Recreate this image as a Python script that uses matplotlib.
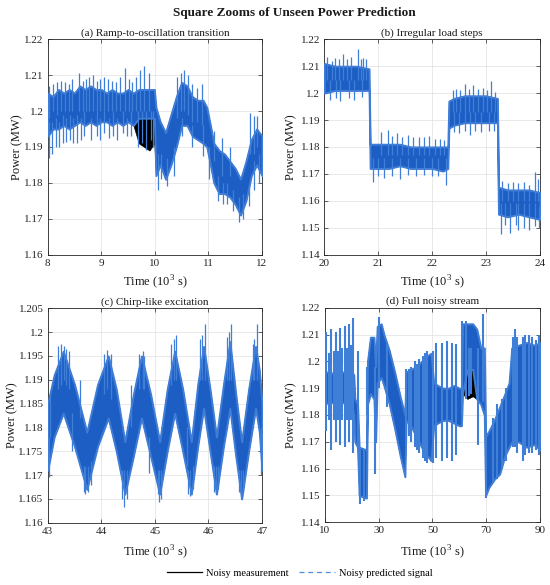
import matplotlib
matplotlib.use('Agg')
import matplotlib.pyplot as plt
from matplotlib.lines import Line2D

plt.rcParams['font.family'] = ['Liberation Serif', 'DejaVu Serif']
plt.rcParams['mathtext.fontset'] = 'custom'
plt.rcParams['mathtext.rm'] = 'Liberation Serif'

# ---------------- data ----------------
# (a) Ramp-to-oscillation transition : band of predicted signal
t_a = [8.0, 8.1, 8.2, 8.3, 8.4, 8.5, 8.6, 8.7, 8.8, 8.9, 9.0, 9.1, 9.2, 9.3, 9.4, 9.5, 9.6,
       9.7, 9.8, 9.9, 9.99, 10.02, 10.1, 10.2, 10.3, 10.4, 10.5, 10.6, 10.7, 10.8, 10.9, 10.97,
       11.05, 11.1, 11.2, 11.3, 11.4, 11.5, 11.6, 11.7, 11.8, 11.9, 12.0]
hi_a = [1.205, 1.204, 1.206, 1.205, 1.206, 1.205, 1.207, 1.206, 1.207, 1.206, 1.206, 1.205, 1.206,
        1.205, 1.205, 1.206, 1.205, 1.206, 1.206, 1.206, 1.206, 1.201, 1.197, 1.194, 1.199, 1.204,
        1.208, 1.207, 1.204, 1.203, 1.203, 1.201, 1.195, 1.191, 1.189, 1.188, 1.186, 1.184, 1.181,
        1.186, 1.192, 1.195, 1.193]
lo_a = [1.193, 1.195, 1.195, 1.196, 1.195, 1.196, 1.197, 1.196, 1.197, 1.196, 1.197, 1.197, 1.196,
        1.197, 1.196, 1.197, 1.196, 1.198, 1.198, 1.198, 1.198, 1.182, 1.185, 1.181, 1.185, 1.190,
        1.196, 1.196, 1.193, 1.192, 1.191, 1.190, 1.184, 1.180, 1.177, 1.177, 1.176, 1.174, 1.171,
        1.175, 1.182, 1.185, 1.182]
meas_hi_a = hi_a
meas_lo_a = [1.193, 1.195, 1.195, 1.196, 1.195, 1.196, 1.197, 1.196, 1.197, 1.196, 1.197, 1.197, 1.196,
             1.197, 1.196, 1.197, 1.196, 1.191, 1.190, 1.189, 1.191, 1.182, 1.185, 1.181, 1.185, 1.190,
             1.196, 1.196, 1.193, 1.192, 1.191, 1.190, 1.184, 1.180, 1.177, 1.177, 1.176, 1.174, 1.171,
             1.175, 1.182, 1.185, 1.182]
spk_a_t = [8.03, 8.1, 8.18, 8.25, 8.33, 8.4, 8.45, 8.58, 8.65, 8.72, 8.78, 8.85, 8.92, 8.98, 9.05,
           9.12, 9.2, 9.28, 9.35, 9.45, 9.52, 9.58, 9.65, 9.72, 9.8, 9.9, 10.42, 10.48, 10.55, 10.62,
           10.7, 10.78, 10.88, 11.1, 11.25, 11.4, 11.78, 11.85, 11.9,
           8.02, 8.08, 8.15, 8.22, 8.28, 8.35, 8.42, 8.48, 8.55, 8.62, 8.68, 8.8, 8.92, 8.98, 9.05,
           9.15, 9.22, 9.3, 9.4, 9.48, 9.55, 9.68, 9.76, 9.83, 9.92, 9.97, 10.05, 10.12, 10.22, 10.35,
           10.5, 10.7, 10.9, 11.02, 11.18, 11.28, 11.35, 11.45, 11.58, 11.65, 11.75, 11.85, 11.95]
spk_a_lo = [1.198, 1.200, 1.199, 1.200, 1.200, 1.200, 1.200, 1.200, 1.200, 1.200, 1.200, 1.200, 1.200,
            1.200, 1.200, 1.200, 1.200, 1.200, 1.200, 1.200, 1.200, 1.200, 1.200, 1.200, 1.200, 1.200,
            1.198, 1.200, 1.200, 1.199, 1.197, 1.197, 1.196, 1.186, 1.182, 1.182, 1.188, 1.188, 1.190,
            1.187, 1.188, 1.190, 1.190, 1.191, 1.1915, 1.192, 1.191, 1.191, 1.192, 1.193, 1.192, 1.193,
            1.192, 1.194, 1.1925, 1.193, 1.192, 1.194, 1.193, 1.193, 1.190, 1.191, 1.189, 1.192, 1.190,
            1.178, 1.181, 1.179, 1.182, 1.193, 1.190, 1.1875, 1.181, 1.175, 1.174, 1.174, 1.172, 1.169,
            1.170, 1.1735, 1.178, 1.180]
spk_a_hi = [1.207, 1.2075, 1.208, 1.2085, 1.208, 1.2075, 1.209, 1.2105, 1.2085, 1.209, 1.2095, 1.210,
            1.2085, 1.209, 1.2095, 1.209, 1.2085, 1.208, 1.2095, 1.212, 1.209, 1.208, 1.2095, 1.2115,
            1.2125, 1.2105, 1.2095, 1.2105, 1.2115, 1.210, 1.2075, 1.2065, 1.2075, 1.1945, 1.1925,
            1.190, 1.1995, 1.1985, 1.1985,
            1.197, 1.197, 1.198, 1.197, 1.199, 1.198, 1.199, 1.198, 1.199, 1.198, 1.200, 1.198, 1.200,
            1.198, 1.200, 1.198, 1.200, 1.198, 1.200, 1.198, 1.200, 1.200, 1.200, 1.200, 1.200, 1.200,
            1.188, 1.188, 1.187, 1.190, 1.198, 1.196, 1.196, 1.190, 1.182, 1.180, 1.180, 1.178, 1.176,
            1.177, 1.180, 1.186, 1.188]

# (b) Irregular load steps
t_b = [20.0, 20.2, 20.4, 20.6, 20.83, 20.85, 21.0, 21.2, 21.4, 21.6, 21.8, 22.0, 22.2, 22.29, 22.31,
       22.4, 22.6, 22.8, 23.0, 23.21, 23.23, 23.4, 23.6, 23.8, 24.0]
hi_b = [1.211, 1.210, 1.210, 1.210, 1.209, 1.181, 1.181, 1.181, 1.181, 1.180, 1.180, 1.180, 1.180,
        1.180, 1.197, 1.198, 1.199, 1.199, 1.199, 1.198, 1.165, 1.164, 1.164, 1.164, 1.163]
lo_b = [1.200, 1.201, 1.201, 1.201, 1.201, 1.172, 1.172, 1.172, 1.173, 1.172, 1.172, 1.172, 1.171,
        1.172, 1.187, 1.188, 1.189, 1.189, 1.189, 1.189, 1.155, 1.154, 1.155, 1.154, 1.153]
meas_hi_b = hi_b
meas_lo_b = lo_b
spk_b_t = [20.05, 20.15, 20.2, 20.28, 20.35, 20.42, 20.5, 20.62, 20.68, 20.72, 20.78, 21.05, 21.18,
           21.25, 21.35, 21.45, 21.55, 21.65, 21.75, 21.85, 21.95, 22.05, 22.15, 22.22, 22.38, 22.45,
           22.52, 22.6, 22.68, 22.75, 22.85, 22.95, 23.02, 23.1, 23.16, 23.3, 23.4, 23.5, 23.6, 23.7,
           23.8, 23.9, 23.97,
           20.1, 20.22, 20.3, 20.45, 20.55, 20.7, 20.9, 21.0, 21.1, 21.25, 21.4, 21.55, 21.7, 21.85,
           22.0, 22.1, 22.25, 22.4, 22.5, 22.6, 22.7, 22.8, 22.9, 23.05, 23.15, 23.28, 23.35, 23.45,
           23.55, 23.6, 23.7, 23.8, 23.9, 23.99]
spk_b_lo = [1.205, 1.205, 1.205, 1.205, 1.205, 1.205, 1.205, 1.205, 1.205, 1.205, 1.205, 1.177, 1.177,
            1.177, 1.177, 1.177, 1.177, 1.177, 1.177, 1.177, 1.177, 1.177, 1.177, 1.177, 1.193, 1.193,
            1.193, 1.193, 1.193, 1.193, 1.193, 1.193, 1.193, 1.193, 1.193, 1.160, 1.160, 1.160, 1.160,
            1.160, 1.160, 1.160, 1.160,
            1.1975, 1.198, 1.197, 1.198, 1.1975, 1.1985, 1.167, 1.169, 1.1685, 1.169, 1.168, 1.1695,
            1.169, 1.1695, 1.169, 1.169, 1.1657, 1.1855, 1.185, 1.186, 1.1845, 1.186, 1.1855, 1.186,
            1.186, 1.1477, 1.151, 1.148, 1.151, 1.149, 1.150, 1.149, 1.1505, 1.150]
spk_b_hi = [1.2135, 1.212, 1.213, 1.2125, 1.2145, 1.2125, 1.2135, 1.2165, 1.2125, 1.213, 1.2125,
            1.1855, 1.1862, 1.184, 1.185, 1.1835, 1.1845, 1.1835, 1.1835, 1.1835, 1.184, 1.183, 1.183,
            1.1825, 1.201, 1.2015, 1.201, 1.2035, 1.2015, 1.203, 1.2015, 1.202, 1.201, 1.2045, 1.2005,
            1.1675, 1.1665, 1.167, 1.1665, 1.167, 1.166, 1.1705, 1.168,
            1.205, 1.205, 1.205, 1.205, 1.205, 1.205, 1.176, 1.176, 1.176, 1.176, 1.176, 1.176, 1.176,
            1.176, 1.176, 1.176, 1.176, 1.193, 1.193, 1.193, 1.193, 1.193, 1.193, 1.193, 1.193, 1.159,
            1.159, 1.159, 1.159, 1.159, 1.159, 1.159, 1.159, 1.158]

# (c) Chirp-like excitation
t_c = [43.00, 43.12, 43.29, 43.50, 43.73, 43.93, 44.13, 44.28, 44.44, 44.60, 44.75, 44.92, 45.09,
       45.23, 45.37, 45.52, 45.68, 45.80, 45.91, 46.03, 46.15, 46.28, 46.40, 46.51, 46.62, 46.75,
       46.88, 46.95, 47.00]
hi_c = [1.185, 1.191, 1.196, 1.189, 1.179, 1.189, 1.195, 1.188, 1.177, 1.187, 1.195, 1.187, 1.177,
        1.188, 1.196, 1.188, 1.177, 1.189, 1.197, 1.188, 1.178, 1.189, 1.198, 1.187, 1.177, 1.188,
        1.197, 1.192, 1.185]
lo_c = [1.171, 1.178, 1.183, 1.176, 1.167, 1.176, 1.182, 1.175, 1.166, 1.174, 1.182, 1.174, 1.166,
        1.175, 1.183, 1.175, 1.166, 1.176, 1.184, 1.175, 1.166, 1.176, 1.184, 1.174, 1.165, 1.175,
        1.184, 1.179, 1.171]
meas_hi_c = hi_c
meas_lo_c = lo_c
spk_c_t = [43.05, 43.2, 43.25, 43.3, 43.35, 43.4, 43.6, 44.05, 44.1, 44.18, 44.55, 44.7, 44.78, 44.8,
           45.3, 45.35, 45.4, 45.6, 45.85, 45.88, 45.93, 46.35, 46.38, 46.42, 46.83, 46.86, 46.9,
           43.02, 43.45, 43.68, 43.7, 43.75, 43.8, 44.38, 44.42, 44.48, 44.9, 45.05, 45.08, 45.12,
           45.62, 45.66, 45.72, 46.1, 46.14, 46.18, 46.58, 46.6, 46.65, 46.98]
spk_c_lo = [1.178, 1.188, 1.189, 1.190, 1.189, 1.188, 1.182, 1.187, 1.188, 1.186, 1.180, 1.188, 1.188,
            1.188, 1.189, 1.190, 1.190, 1.172, 1.190, 1.190, 1.190, 1.190, 1.190, 1.190, 1.190,
            1.190, 1.190,
            1.1695, 1.175, 1.1665, 1.166, 1.1665, 1.168, 1.165, 1.1634, 1.165, 1.1705, 1.166, 1.1643,
            1.165, 1.166, 1.1655, 1.167, 1.1665, 1.166, 1.167, 1.1665, 1.165, 1.1665, 1.170]
spk_c_hi = [1.187, 1.197, 1.1975, 1.197, 1.1965, 1.196, 1.190, 1.1955, 1.1963, 1.1955, 1.189, 1.1955,
            1.196, 1.195, 1.1975, 1.1985, 1.1995, 1.180, 1.1985, 1.1995, 1.2018, 1.199, 1.200,
            1.2018, 1.1975, 1.1985, 1.2018,
            1.178, 1.183, 1.172, 1.172, 1.172, 1.173, 1.171, 1.171, 1.171, 1.178, 1.171, 1.171, 1.171,
            1.171, 1.171, 1.172, 1.172, 1.172, 1.172, 1.171, 1.171, 1.171, 1.180]

# (d) Full noisy stream
t_d = [10, 12, 14, 16, 18, 20, 20.8, 21.2, 22.2, 22.8, 25.5, 25.9, 27, 28.3, 28.9, 29.5, 31, 32, 34,
       36, 38, 39.8, 40.2, 42, 44, 46, 48, 49.5, 50.5, 52, 54, 56, 58, 60, 60.8, 61.2, 63, 65, 66.5,
       68, 69.3, 69.8, 71, 73, 75, 77, 78.5, 79.5, 82, 85, 88, 90]
hi_d = [1.196, 1.196, 1.195, 1.196, 1.196, 1.196, 1.195, 1.186, 1.184, 1.168, 1.167, 1.200, 1.209,
        1.209, 1.198, 1.213, 1.214, 1.210, 1.204, 1.196, 1.187, 1.180, 1.196, 1.197, 1.198, 1.200,
        1.202, 1.203, 1.192, 1.191, 1.190, 1.190, 1.191, 1.190, 1.190, 1.214, 1.214, 1.214, 1.212,
        1.205, 1.205, 1.172, 1.174, 1.178, 1.183, 1.188, 1.192, 1.205, 1.206, 1.207, 1.206, 1.207]
lo_d = [1.184, 1.185, 1.184, 1.185, 1.184, 1.184, 1.180, 1.170, 1.168, 1.150, 1.149, 1.184, 1.188,
        1.186, 1.170, 1.192, 1.194, 1.191, 1.184, 1.175, 1.165, 1.157, 1.178, 1.176, 1.172, 1.168,
        1.165, 1.163, 1.176, 1.177, 1.178, 1.178, 1.177, 1.176, 1.176, 1.188, 1.197, 1.197, 1.186,
        1.184, 1.180, 1.150, 1.153, 1.156, 1.158, 1.165, 1.168, 1.170, 1.170, 1.168, 1.169, 1.167]
meas_hi_d = hi_d
meas_lo_d = [1.184, 1.185, 1.184, 1.185, 1.184, 1.184, 1.180, 1.170, 1.168, 1.150, 1.149, 1.184, 1.188,
             1.186, 1.170, 1.192, 1.194, 1.191, 1.184, 1.175, 1.165, 1.157, 1.178, 1.176, 1.172, 1.168,
             1.165, 1.163, 1.176, 1.177, 1.178, 1.178, 1.177, 1.176, 1.176, 1.188, 1.186, 1.187, 1.186,
             1.184, 1.180, 1.150, 1.153, 1.156, 1.158, 1.165, 1.168, 1.170, 1.170, 1.168, 1.169, 1.167]
spk_d_t = [10.6, 11.5, 12.4, 13.3, 14.1, 15.0, 15.8, 16.6, 17.4, 18.2, 19.0, 19.8, 20.5, 22.4, 23.3,
           24.5, 25.9, 28.8, 30.2, 33.0, 40.3, 41.2, 42.0, 43.5, 44.2, 45.0, 46.5, 47.2, 48.0, 50.3,
           51.5, 53.6, 55.5, 57.3, 58.9, 61.2, 62.5, 63.5, 64.5, 66.8, 69.0, 70.0, 72.5, 74.0, 76.0,
           77.5, 79.8, 80.7, 81.5, 83.5, 84.5, 86.0, 87.2, 88.5, 89.8]
spk_d_lo = [1.174, 1.178, 1.167, 1.178, 1.170, 1.178, 1.169, 1.178, 1.168, 1.178, 1.170, 1.178, 1.166,
            1.167, 1.147, 1.148, 1.180, 1.158, 1.190, 1.183, 1.170, 1.172, 1.170, 1.168, 1.167, 1.166,
            1.164, 1.163, 1.162, 1.162, 1.164, 1.163, 1.164, 1.163, 1.165, 1.180, 1.186, 1.187, 1.188,
            1.169, 1.185, 1.149, 1.155, 1.156, 1.160, 1.163, 1.168, 1.168, 1.166, 1.163, 1.165, 1.166,
            1.166, 1.167, 1.165]
spk_d_hi = [1.211, 1.203, 1.212, 1.204, 1.211, 1.204, 1.2125, 1.205, 1.213, 1.205, 1.214, 1.206, 1.216,
            1.204, 1.168, 1.167, 1.198, 1.198, 1.2165, 1.207, 1.197, 1.197, 1.198, 1.200, 1.199, 1.201,
            1.202, 1.203, 1.204, 1.204, 1.207, 1.207, 1.2075, 1.207, 1.2065, 1.215, 1.215, 1.205, 1.205,
            1.205, 1.2175, 1.172, 1.179, 1.184, 1.186, 1.190, 1.209, 1.212, 1.209, 1.209, 1.210, 1.210,
            1.209, 1.208, 1.210]

# axes settings / labels
titles = ['(a) Ramp-to-oscillation transition', '(b) Irregular load steps',
          '(c) Chirp-like excitation', '(d) Full noisy stream']
xlims = [(8, 12), (20, 24), (43, 47), (10, 90)]
ylims = [(1.16, 1.22), (1.14, 1.22), (1.16, 1.205), (1.14, 1.22)]
xticks = [[8, 9, 10, 11, 12], [20, 21, 22, 23, 24], [43, 44, 45, 46, 47], [10, 30, 50, 70, 90]]
yticks_a = [1.16, 1.17, 1.18, 1.19, 1.20, 1.21, 1.22]
ylabels_a = ['1.16', '1.17', '1.18', '1.19', '1.2', '1.21', '1.22']
yticks_b = [1.14, 1.15, 1.16, 1.17, 1.18, 1.19, 1.20, 1.21, 1.22]
ylabels_b = ['1.14', '1.15', '1.16', '1.17', '1.18', '1.19', '1.2', '1.21', '1.22']
yticks_c = [1.16, 1.165, 1.17, 1.175, 1.18, 1.185, 1.19, 1.195, 1.20, 1.205]
ylabels_c = ['1.16', '1.165', '1.17', '1.175', '1.18', '1.185', '1.19', '1.195', '1.2', '1.205']

# ---------------- styles ----------------
BAND = '#1d5ec4'
EDGE = '#3f7dd6'
SPIKE = '#3f7fd8'
PRED_LEG = '#4a8fe0'

fig = plt.figure(figsize=(5.5, 5.85), dpi=100)
rects = [(47.7, 39.3, 262.0, 254.5), (324.3, 39.3, 540.0, 254.5),
         (47.7, 308.3, 262.0, 522.7), (324.7, 307.7, 540.0, 522.3)]
W, H = 550.0, 585.0
axes = []
for (l, t, r, b) in rects:
    axes.append(fig.add_axes([l / W, 1 - b / H, (r - l) / W, (b - t) / H]))

panels = [
    (t_a, hi_a, lo_a, meas_hi_a, meas_lo_a, spk_a_t, spk_a_lo, spk_a_hi, yticks_a, ylabels_a),
    (t_b, hi_b, lo_b, meas_hi_b, meas_lo_b, spk_b_t, spk_b_lo, spk_b_hi, yticks_b, ylabels_b),
    (t_c, hi_c, lo_c, meas_hi_c, meas_lo_c, spk_c_t, spk_c_lo, spk_c_hi, yticks_c, ylabels_c),
    (t_d, hi_d, lo_d, meas_hi_d, meas_lo_d, spk_d_t, spk_d_lo, spk_d_hi, yticks_b, ylabels_b),
]
ylab_x = [-0.116, -0.123, -0.139, -0.129]
xlab_y = [-0.088, -0.088, -0.096, -0.096]
spike_lw = [0.9, 0.9, 0.9, 1.5]

for i, ax in enumerate(axes):
    t, hi, lo, mhi, mlo, st, slo, shi, yt, yl = panels[i]
    ax.fill_between(t, mlo, mhi, color='black', lw=0.5, zorder=2)
    ax.fill_between(t, lo, hi, facecolor=BAND, edgecolor=EDGE, lw=1.4, zorder=3)
    ax.vlines(st, slo, shi, color=SPIKE, lw=spike_lw[i], zorder=4)
    ax.set_xlim(*xlims[i])
    ax.set_ylim(*ylims[i])
    ax.set_xticks(xticks[i])
    ax.set_yticks(yt)
    ax.set_yticklabels(yl)
    ax.grid(True, color='#e0e0e0', lw=0.5)
    ax.set_axisbelow(True)
    ax.tick_params(direction='in', length=3, width=0.5, labelsize=8, top=True, right=True,
                   colors='#262626', pad=3)
    for s in ax.spines.values():
        s.set_linewidth(0.6)
        s.set_color('#262626')
    ax.set_title(titles[i], fontsize=8, pad=2.5, color='#1a1a1a')
    ax.set_xlabel('Time (10$^3$ s)', fontsize=9, color='#1a1a1a')
    ax.set_ylabel('Power (MW)', fontsize=9, color='#1a1a1a')
    ax.yaxis.set_label_coords(ylab_x[i], 0.5)
    ax.xaxis.set_label_coords(0.5, xlab_y[i])

fig.text(0.535, 0.978, 'Square Zooms of Unseen Power Prediction', ha='center', va='center',
         fontsize=9.5, fontweight='bold', color='#1a1a1a')

handles = [Line2D([], [], color='black', lw=0.9),
           Line2D([], [], color=PRED_LEG, lw=0.9, ls=(0, (4, 3)))]
fig.legend(handles, ['Noisy measurement', 'Noisy predicted signal'], loc='center',
           bbox_to_anchor=(0.545, 0.0205), ncol=2, frameon=False, fontsize=7.5,
           handlelength=3.4, handletextpad=0.4, columnspacing=1.0)

fig.savefig('out.png', dpi=100)
